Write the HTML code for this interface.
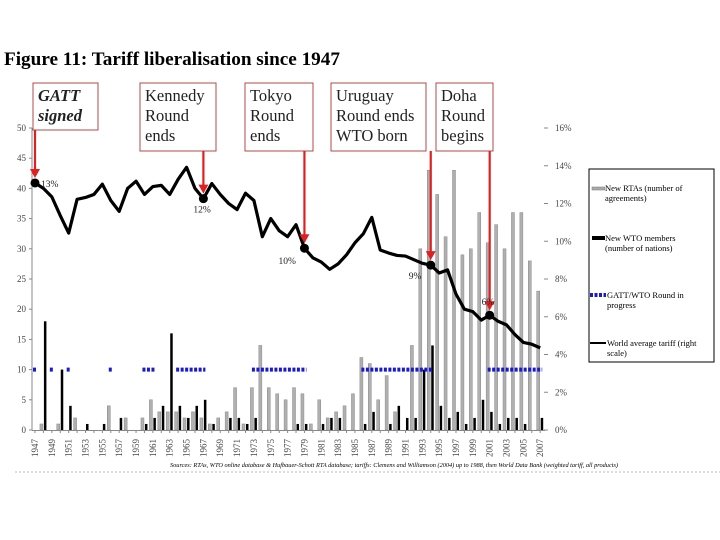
<!DOCTYPE html>
<html><head><meta charset="utf-8"><style>
html,body{margin:0;padding:0;background:#fff;width:720px;height:540px;overflow:hidden}
svg{display:block;font-family:"Liberation Serif",serif}
</style></head><body>
<svg id="c" width="720" height="540" viewBox="0 0 720 540">
<text x="4" y="65" font-size="19.2" font-weight="bold">Figure 11: Tariff liberalisation since 1947</text>
<g id="axes"></g><g id="bars"></g><g id="rounds"></g><g id="line"></g><g id="ann"></g>
<g>
<rect x="589" y="169" width="125" height="193" fill="#fff" stroke="#000" stroke-width="1"/>
<rect x="592" y="187" width="13" height="3" fill="#aaa" stroke="#777" stroke-width="0.5"/>
<text x="605" y="191" font-size="8.5">New RTAs (number of</text>
<text x="605" y="201" font-size="8.5">agreements)</text>
<rect x="592" y="236" width="13" height="4" fill="#000"/>
<text x="605" y="241" font-size="8.5">New WTO members</text>
<text x="605" y="251" font-size="8.5">(number of nations)</text>
<line x1="590" y1="295" x2="606" y2="295" stroke="#1a1acc" stroke-width="4" stroke-dasharray="3,1.5"/>
<text x="607" y="298" font-size="8.5">GATT/WTO Round in</text>
<text x="607" y="308" font-size="8.5">progress</text>
<line x1="590" y1="343" x2="606" y2="343" stroke="#000" stroke-width="2"/>
<text x="607" y="346" font-size="8.5">World average tariff (right</text>
<text x="607" y="356" font-size="8.5">scale)</text>
</g>
<text x="170" y="467" font-size="6.3" font-style="italic">Sources: RTAs, WTO online database &amp; Hufbauer-Schott RTA database; tariffs: Clemens and Williamson (2004) up to 1988, then World Data Bank (weighted tariff, all products)</text>
<line x1="15" y1="472" x2="720" y2="472" stroke="#bbb" stroke-width="1" stroke-dasharray="2,2"/>
</svg>
<script>
const years=[];for(let y=1947;y<=2007;y++)years.push(y);
const rtas=[0,1,0,1,0,2,0,0,0,4,0,2,0,2,5,3,3,3,2,3,2,1,2,3,7,1,7,14,7,6,5,7,6,1,5,2,3,4,6,12,11,5,9,3,0,14,30,43,39,32,43,29,30,36,31,34,30,36,36,28,23];
const members=[0,18,0,10,4,0,1,0,1,0,2,0,0,1,2,4,16,4,2,4,5,1,0,2,2,1,2,0,0,0,0,1,1,0,1,2,2,0,0,1,3,0,1,4,2,2,10,14,4,2,3,1,2,5,3,1,2,2,1,0,2];
const tariff=[40.9,40,38.6,35.5,32.6,38.2,38.5,39,40.7,38,36.2,40,41.2,39,40.3,40.5,39,41.5,43.5,40,38.3,40.8,39,37.5,36.5,39.2,38,32,35,33,32,34,30.1,28.5,27.8,26.6,27.5,29,31,32.5,35.2,29.8,29.3,28.9,28.8,28.2,27.6,27.3,26,26.5,22.5,20,19.6,18.2,19,18,17.4,15.8,14.5,14.2,13.6];
const roundYears=[[1947,1947],[1949,1949],[1951,1951],[1956,1956],[1960,1961],[1964,1967],[1973,1979],[1986,1994],[2001,2007]];
const leftTicks=[0,5,10,15,20,25,30,35,40,45,50];
const rightTicks=["0%","2%","4%","6%","8%","10%","12%","14%","16%"];
const events=[{y:1947,lab:"13%",box:["GATT","signed"],bx:33,bw:65,bh:47,it:true,lx:6,ly:4},
{y:1967,lab:"12%",box:["Kennedy","Round","ends"],bx:140,bw:76,bh:68,lx:-10,ly:14},
{y:1979,lab:"10%",box:["Tokyo","Round","ends"],bx:245,bw:68,bh:68,lx:-26,ly:16},
{y:1994,lab:"9%",box:["Uruguay","Round ends","WTO born"],bx:331,bw:95,bh:68,lx:-22,ly:14},
{y:2001,lab:"6%",box:["Doha","Round","begins"],bx:436,bw:57,bh:68,lx:-8,ly:-10}];
const NS="http://www.w3.org/2000/svg";
const X=y=>35+(y-1947)*8.42, Y=v=>430-v*6.04;
function mk(p,t,a){const e=document.createElementNS(NS,t);for(const k in a)e.setAttribute(k,a[k]);document.getElementById(p).appendChild(e);return e;}
let e=mk("axes","line",{x1:32,y1:Y(0),x2:32,y2:Y(50),stroke:"#888"});


leftTicks.forEach(v=>{mk("axes","line",{x1:29,y1:Y(v),x2:32,y2:Y(v),stroke:"#888"});
const t=mk("axes","text",{x:26,y:Y(v)+3,"font-size":9,"text-anchor":"end",fill:"#444"});t.textContent=v;

});
rightTicks.forEach((s,i)=>{const yy=Y(i*2*50/16);mk("axes","line",{x1:544,y1:yy,x2:548,y2:yy,stroke:"#888"});
const t=mk("axes","text",{x:555,y:yy+3,"font-size":9,fill:"#444"});t.textContent=s;

});
mk("axes","line",{x1:32,y1:430.5,x2:545,y2:430.5,stroke:"#888"});
years.forEach((y,i)=>{mk("axes","line",{x1:X(y),y1:430,x2:X(y),y2:433,stroke:"#888"});
if(i%2==0){const t=mk("axes","text",{x:0,y:0,"font-size":9,"text-anchor":"end",fill:"#444",transform:`translate(${X(y)+3},439) rotate(-90)`});t.textContent=y;

}});
years.forEach((y,i)=>{if(rtas[i]>0){const r=mk("bars","rect",{x:X(y)-3.5,y:Y(rtas[i]),width:3,height:rtas[i]*6.04,fill:"#b0b0b0",stroke:"#888","stroke-width":0.5});

}
if(members[i]>0){const r=mk("bars","rect",{x:X(y)+0.5,y:Y(members[i]),width:2.5,height:members[i]*6.04,fill:"#000"});

}});
roundYears.forEach(([a,b])=>{const l=mk("rounds","line",{x1:X(a)-2,y1:Y(10),x2:X(b)+2,y2:Y(10),stroke:"#1a1acc","stroke-width":4,"stroke-dasharray":"3,1.5"});

});
const p=mk("line","polyline",{points:years.map((y,i)=>X(y)+","+Y(tariff[i])).join(" "),fill:"none",stroke:"#000","stroke-width":3.2,"stroke-linejoin":"round"});


events.forEach(ev=>{const i=ev.y-1947,cx=X(ev.y),cy=Y(tariff[i]);
const b=mk("ann","rect",{x:ev.bx,y:83,width:ev.bw,height:ev.bh,fill:"#fff",stroke:"#b04848","stroke-width":1});


ev.box.forEach((s,k)=>{const t=mk("ann","text",{x:ev.bx+5,y:101+k*20,"font-size":16.5,"font-weight":ev.it?"bold":"normal","font-style":ev.it?"italic":"normal",fill:"#222"});t.textContent=s;});
const top=83+ev.bh;
mk("ann","line",{x1:cx,y1:top,x2:cx,y2:cy-12,stroke:"#e02020","stroke-width":2.2});
mk("ann","polygon",{points:`${cx-5},${cy-14} ${cx+5},${cy-14} ${cx},${cy-5}`,fill:"#e02020"});
const c=mk("ann","circle",{cx:cx,cy:cy,r:4.5,fill:"#000"});


const t=mk("ann","text",{x:cx+ev.lx,y:cy+ev.ly,"font-size":9.5,fill:"#222"});t.textContent=ev.lab;});
</script>
</body></html>
